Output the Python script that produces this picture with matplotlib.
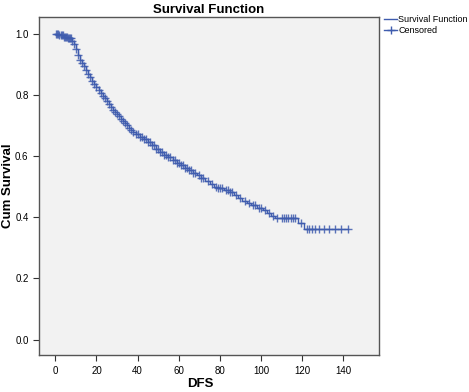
import numpy as np
import matplotlib
matplotlib.use("Agg")
import matplotlib.pyplot as plt
from matplotlib.lines import Line2D

# Kaplan-Meier step curve (time, survival after step)
surv_times = [0, 2, 4, 6, 8, 9, 10, 11, 12, 13, 14, 15, 16, 17, 18, 19, 20,
              21, 22, 23, 24, 25, 26, 27, 28, 29, 30, 31, 32, 33, 34, 35, 36,
              37, 38, 39, 41, 43, 45, 47, 49, 51, 53, 55, 57, 59, 61, 63, 65,
              67, 69, 71, 73, 75, 77, 79, 82, 85, 87, 89, 91, 93, 95, 98, 101,
              103, 105, 107, 118, 121, 142.5]
surv_vals = [1.0, 0.997, 0.99, 0.985, 0.975, 0.965, 0.95, 0.93, 0.915, 0.905,
             0.893, 0.88, 0.868, 0.857, 0.846, 0.836, 0.826, 0.816, 0.806,
             0.797, 0.789, 0.78, 0.77, 0.76, 0.752, 0.744, 0.737, 0.73, 0.722,
             0.715, 0.707, 0.70, 0.692, 0.685, 0.678, 0.671, 0.663, 0.655,
             0.645, 0.635, 0.623, 0.613, 0.604, 0.596, 0.588, 0.578, 0.570,
             0.562, 0.553, 0.545, 0.537, 0.528, 0.518, 0.508, 0.500, 0.495,
             0.489, 0.482, 0.474, 0.462, 0.452, 0.446, 0.440, 0.430, 0.422,
             0.415, 0.405, 0.398, 0.380, 0.363, 0.363]

# censored observations (times)
censor_times = [0.5, 1, 1.5, 2, 2.5, 3, 3.5, 4, 4.5, 5, 5.5, 6, 6.5, 7, 7.5, 8,
                9, 10, 11, 12, 13, 14, 15, 16, 17, 18, 19, 20, 21, 22, 23, 24,
                25, 26, 27, 28, 29, 30, 31, 32, 33, 34, 35, 36, 37, 38, 39, 40,
                41, 42, 43, 44, 45, 46, 47, 48, 49, 50, 51, 52, 53, 54, 55, 56,
                57, 58, 59, 60, 61, 62, 63, 64, 65, 66, 67, 68, 70, 71, 72, 74,
                76, 78, 79, 80, 81, 83, 84, 85, 86, 88, 90, 92, 94, 96, 97, 99,
                100, 102, 104, 106, 108, 110, 111.1, 112.1, 113.2, 114.4, 115.4,
                116.5, 119.5, 122.2, 123.5, 124.8, 126.2, 128.3, 130.8, 133.2,
                136, 138.8, 142.5]

x_ticks = [0, 20, 40, 60, 80, 100, 120, 140]
y_ticks = [0.0, 0.2, 0.4, 0.6, 0.8, 1.0]

blue = "#3f5cae"
plt.rcParams['font.family'] = ['Liberation Sans', 'DejaVu Sans']

fig = plt.figure(figsize=(4.69, 3.92), dpi=100)
ax = fig.add_axes([0.083, 0.094, 0.725, 0.863])
ax.set_facecolor("#f2f2f2")

ax.step(surv_times, surv_vals, where='post', color=blue, lw=1.0)

st = np.array(surv_times)
sv = np.array(surv_vals)
idx = np.searchsorted(st, censor_times, side='right') - 1
ax.plot(censor_times, sv[idx], ls='none', marker='+', ms=6, mew=1.0,
        color=blue, alpha=0.85)

ax.set_xlim(-8, 157.4)
ax.set_ylim(-0.051, 1.055)
ax.set_xticks(x_ticks)
ax.set_yticks(y_ticks)
ax.set_yticklabels(["%.1f" % v for v in y_ticks])
ax.tick_params(direction='out', length=4, width=0.8, colors='#333333',
               labelsize=7, labelcolor='black')
for s in ax.spines.values():
    s.set_color('#555555')
    s.set_linewidth(1.0)

ax.set_title("Survival Function", fontsize=9.5, fontweight='bold', pad=3)
# axis titles placed by hand so they stay inside the small canvas
fig.text(200 / 469, 1 - 384 / 392, "DFS", fontsize=9.5, fontweight='bold',
         ha='center', va='center')
fig.text(8 / 469, 1 - 186 / 392, "Cum Survival", fontsize=9.5,
         fontweight='bold', rotation=90, ha='center', va='center')

handles = [Line2D([], [], color=blue, lw=1.0),
           Line2D([], [], color=blue, lw=1.0, marker='+', ms=6)]
fig.legend(handles, ["Survival Function", "Censored"],
           loc='upper left', bbox_to_anchor=(0.812, 0.97), frameon=False,
           fontsize=6.5, handlelength=1.4, handletextpad=0.15,
           labelspacing=0.15, borderaxespad=0)

fig.savefig("out.png", dpi=100)
